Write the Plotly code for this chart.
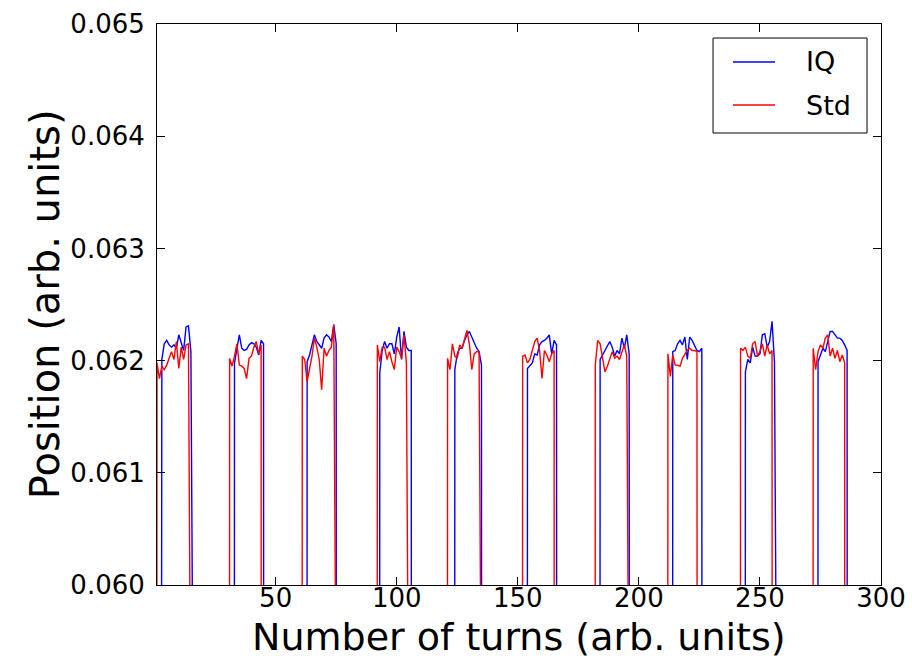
import plotly.graph_objects as go

# ---- data ----
OFF_VALUE = 0.0          # reading between pulses (far below the visible range)
N_TURNS = 300

std_starts = [1, 31, 61, 92, 121, 152, 182, 212, 242, 272]
std_pulses = [
    [0.06198, 0.06184, 0.06195, 0.06192, 0.06196, 0.06202, 0.06208, 0.06201, 0.06217, 0.06193, 0.06212, 0.06201, 0.06214, 0.06215],
    [0.06202, 0.06195, 0.06204, 0.06215, 0.06196, 0.06195, 0.06193, 0.06184, 0.06202, 0.06204, 0.06212, 0.06217, 0.06206, 0.06214],
    [0.06204, 0.06201, 0.06181, 0.06192, 0.06204, 0.06220, 0.06212, 0.06201, 0.06174, 0.06211, 0.06204, 0.06209, 0.06212, 0.06232],
    [0.06214, 0.06199, 0.06212, 0.06212, 0.06201, 0.06208, 0.06199, 0.06192, 0.06212, 0.06208, 0.06202, 0.06223, 0.06198],
    [0.06202, 0.06192, 0.06215, 0.06204, 0.06202, 0.06214, 0.06211, 0.06220, 0.06227, 0.06215, 0.06192, 0.06206, 0.06208, 0.06208],
    [0.06204, 0.06205, 0.06198, 0.06201, 0.06209, 0.06217, 0.06220, 0.06209, 0.06184, 0.06209, 0.06205, 0.06199, 0.06206, 0.06209],
    [0.06196, 0.06218, 0.06215, 0.06204, 0.06190, 0.06195, 0.06202, 0.06208, 0.06202, 0.06204, 0.06201, 0.06208, 0.06214, 0.06204],
    [0.06206, 0.06186, 0.06205, 0.06196, 0.06196, 0.06195, 0.06202, 0.06206, 0.06209, 0.06211, 0.06209, 0.06209, 0.06208],
    [0.06211, 0.06209, 0.06212, 0.06204, 0.06202, 0.06215, 0.06217, 0.06204, 0.06208, 0.06215, 0.06204, 0.06214, 0.06206, 0.06209],
    [0.06211, 0.06192, 0.06208, 0.06214, 0.06211, 0.06220, 0.06223, 0.06204, 0.06211, 0.06202, 0.06209, 0.06199, 0.06205, 0.06198],
]

iq_starts = [3, 33, 63, 93, 124, 154, 184, 214, 244, 274]
iq_pulses = [
    [0.06201, 0.06215, 0.06218, 0.06214, 0.06212, 0.06214, 0.06211, 0.06223, 0.06215, 0.06209, 0.06230, 0.06231, 0.06208],
    [0.06198, 0.06209, 0.06223, 0.06211, 0.06209, 0.06210, 0.06214, 0.06216, 0.06215, 0.06212, 0.06205, 0.06218, 0.06215],
    [0.06199, 0.06205, 0.06214, 0.06223, 0.06217, 0.06214, 0.06211, 0.06220, 0.06223, 0.06221, 0.06217, 0.06232, 0.06215],
    [0.06189, 0.06209, 0.06217, 0.06211, 0.06215, 0.06215, 0.06206, 0.06221, 0.06230, 0.06201, 0.06226, 0.06212, 0.06209, 0.06209],
    [0.06192, 0.06206, 0.06211, 0.06211, 0.06218, 0.06223, 0.06226, 0.06221, 0.06215, 0.06211, 0.06208, 0.06196],
    [0.06193, 0.06196, 0.06198, 0.06206, 0.06205, 0.06214, 0.06217, 0.06218, 0.06220, 0.06223, 0.06206, 0.06218, 0.06214],
    [0.06201, 0.06205, 0.06209, 0.06212, 0.06217, 0.06212, 0.06204, 0.06209, 0.06206, 0.06220, 0.06211, 0.06223, 0.06206],
    [0.06208, 0.06209, 0.06215, 0.06218, 0.06214, 0.06221, 0.06201, 0.06221, 0.06218, 0.06214, 0.06209, 0.06208, 0.06211],
    [0.06190, 0.06201, 0.06198, 0.06212, 0.06204, 0.06204, 0.06206, 0.06223, 0.06224, 0.06212, 0.06217, 0.06235, 0.06199],
    [0.06199, 0.06206, 0.06211, 0.06208, 0.06217, 0.06226, 0.06226, 0.06223, 0.06220, 0.06220, 0.06218, 0.06214, 0.06209],
]

series_names = ["IQ", "Std"]
series_colors = ["#0000ff", "#ff0000"]

x_ticks = [50, 100, 150, 200, 250, 300]
y_ticks = [0.060, 0.061, 0.062, 0.063, 0.064, 0.065]
y_tick_labels = ["0.060", "0.061", "0.062", "0.063", "0.064", "0.065"]


def assemble(starts, pulses):
    turns = list(range(0, N_TURNS + 1))
    vals = [OFF_VALUE] * len(turns)
    for s, p in zip(starts, pulses):
        for i, v in enumerate(p):
            vals[s + i] = v
    return turns, vals


x_iq, y_iq = assemble(iq_starts, iq_pulses)
x_std, y_std = assemble(std_starts, std_pulses)

FONT = "DejaVu Sans"

fig = go.Figure()
fig.add_trace(go.Scatter(x=x_iq, y=y_iq, mode="lines", name=series_names[0],
                         line=dict(color=series_colors[0], width=1.4), showlegend=False))
fig.add_trace(go.Scatter(x=x_std, y=y_std, mode="lines", name=series_names[1],
                         line=dict(color=series_colors[1], width=1.4), showlegend=False))

axis_common = dict(
    showgrid=False, zeroline=False, showline=True, linecolor="black", linewidth=1,
    mirror="allticks", ticks="inside", ticklen=8, tickwidth=1, tickcolor="black",
    tickfont=dict(family=FONT, size=26, color="black"), automargin=False,
)

fig.update_xaxes(range=[1, 300], tickvals=x_ticks, ticktext=[str(v) for v in x_ticks],
                 ticklabelstandoff=-10, **axis_common)
fig.update_yaxes(range=[0.060, 0.065], tickvals=y_ticks, ticktext=y_tick_labels,
                 ticklabelstandoff=6, **axis_common)

fig.add_annotation(text="Number of turns (arb. units)", xref="paper", yref="paper",
                   x=0.5, y=-0.0927, xanchor="center", yanchor="middle", showarrow=False,
                   font=dict(family=FONT, size=38, color="black"))
fig.add_annotation(text="Position (arb. units)", xref="paper", yref="paper",
                   x=-0.155, y=0.5, xanchor="center", yanchor="middle", showarrow=False,
                   textangle=-90, font=dict(family=FONT, size=40, color="black"))

# ---- legend box (drawn in plot-paper coordinates) ----
fig.add_shape(type="rect", xref="paper", yref="paper", x0=0.768, x1=0.9807, y0=0.8057, y1=0.975,
              line=dict(color="black", width=1), fillcolor="white", layer="above")
legend_rows_y = [0.9323, 0.8556]
for name, color, ly in zip(series_names, series_colors, legend_rows_y):
    fig.add_shape(type="line", xref="paper", yref="paper", x0=0.7956, x1=0.8536, y0=ly, y1=ly,
                  line=dict(color=color, width=1.3), layer="above")
    fig.add_annotation(text=name, xref="paper", yref="paper", x=0.893, y=ly,
                       xanchor="left", yanchor="middle", showarrow=False,
                       font=dict(family=FONT, size=27, color="black"))

fig.update_layout(
    width=912, height=661,
    margin=dict(l=157, r=31, t=24, b=76),
    paper_bgcolor="white", plot_bgcolor="white",
    showlegend=False,
)

fig.write_html("out.html")
